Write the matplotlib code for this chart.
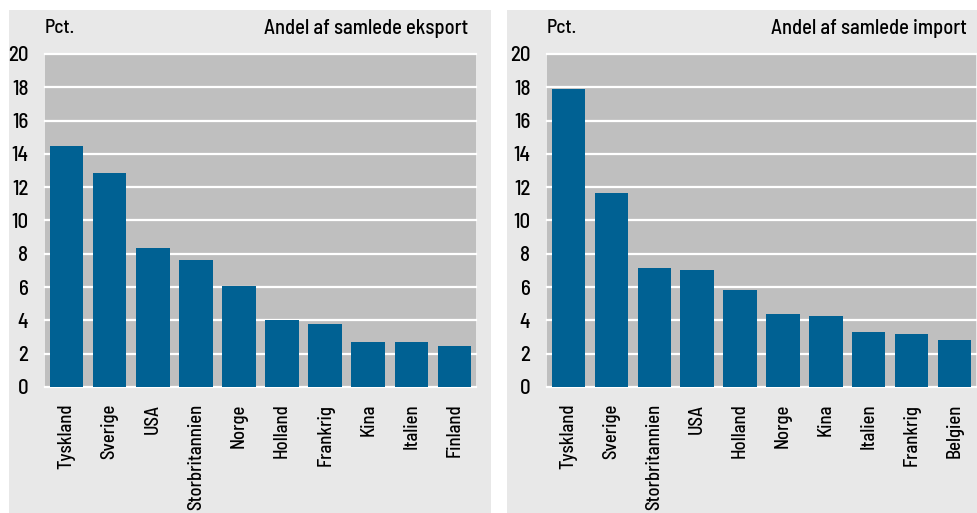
import matplotlib
matplotlib.use("Agg")
import matplotlib.pyplot as plt
from matplotlib.patches import Rectangle

export_countries = ["Tyskland", "Sverige", "USA", "Storbritannien", "Norge",
                    "Holland", "Frankrig", "Kina", "Italien", "Finland"]
export_values = [14.5, 12.85, 8.35, 7.63, 6.07, 4.02, 3.78, 2.7, 2.7, 2.46]

import_countries = ["Tyskland", "Sverige", "Storbritannien", "USA", "Holland",
                    "Norge", "Kina", "Italien", "Frankrig", "Belgien"]
import_values = [17.9, 11.65, 7.15, 7.03, 5.83, 4.38, 4.26, 3.3, 3.18, 2.82]

yticks = [0, 2, 4, 6, 8, 10, 12, 14, 16, 18, 20]
titles = ["Andel af samlede eksport", "Andel af samlede import"]
unit = "Pct."

FONT = ["Barlow Semi Condensed", "DejaVu Sans"]
plt.rcParams["font.family"] = FONT
plt.rcParams["font.weight"] = 500

W, H = 977, 513
fig = plt.figure(figsize=(W / 100, H / 100), dpi=100)
fig.patch.set_facecolor("white")

panel_bg = "#e8e8e8"
plot_bg = "#bfbfbf"
bar_col = "#006193"

# panel backgrounds (pixel based)
for (px0, px1) in [(9, 491), (507, 977)]:
    fig.patches.append(Rectangle((px0 / W, 0), (px1 - px0) / W, 1 - 10 / H,
                                 transform=fig.transFigure, facecolor=panel_bg,
                                 edgecolor="none", zorder=-5))

axes_px = [(45, 476), (547, 976)]
y_top, y_bot = 54, 387
title_right = [468, 967]

data = [(export_countries, export_values), (import_countries, import_values)]

for i, ((x0, x1), (cats, vals)) in enumerate(zip(axes_px, data)):
    ax = fig.add_axes([x0 / W, 1 - y_bot / H, (x1 - x0) / W, (y_bot - y_top) / H])
    ax.set_facecolor(plot_bg)
    ax.bar(range(len(cats)), vals, width=0.78, color=bar_col, zorder=3)
    ax.set_xlim(-0.5, len(cats) - 0.5)
    ax.set_ylim(0, 20)
    ax.set_yticks(yticks)
    ax.set_yticklabels([str(t) for t in yticks], fontsize=15)
    ax.set_xticks(range(len(cats)))
    ax.set_xticklabels(cats, rotation=90, fontsize=13.5, ha="center", va="top")
    ax.tick_params(axis="y", length=0, pad=12)
    ax.tick_params(axis="x", length=0, pad=12)
    for s in ax.spines.values():
        s.set_visible(False)
    for t in yticks:
        ax.axhline(t, color="white", lw=1.6, zorder=2, clip_on=False)
    fig.text(x0 / W, 1 - 28 / H, unit, fontsize=14, ha="left", va="center")
    fig.text(title_right[i] / W, 1 - 28 / H, titles[i], fontsize=14.8,
             ha="right", va="center")

fig.savefig("out.png", dpi=100, facecolor=fig.get_facecolor())
